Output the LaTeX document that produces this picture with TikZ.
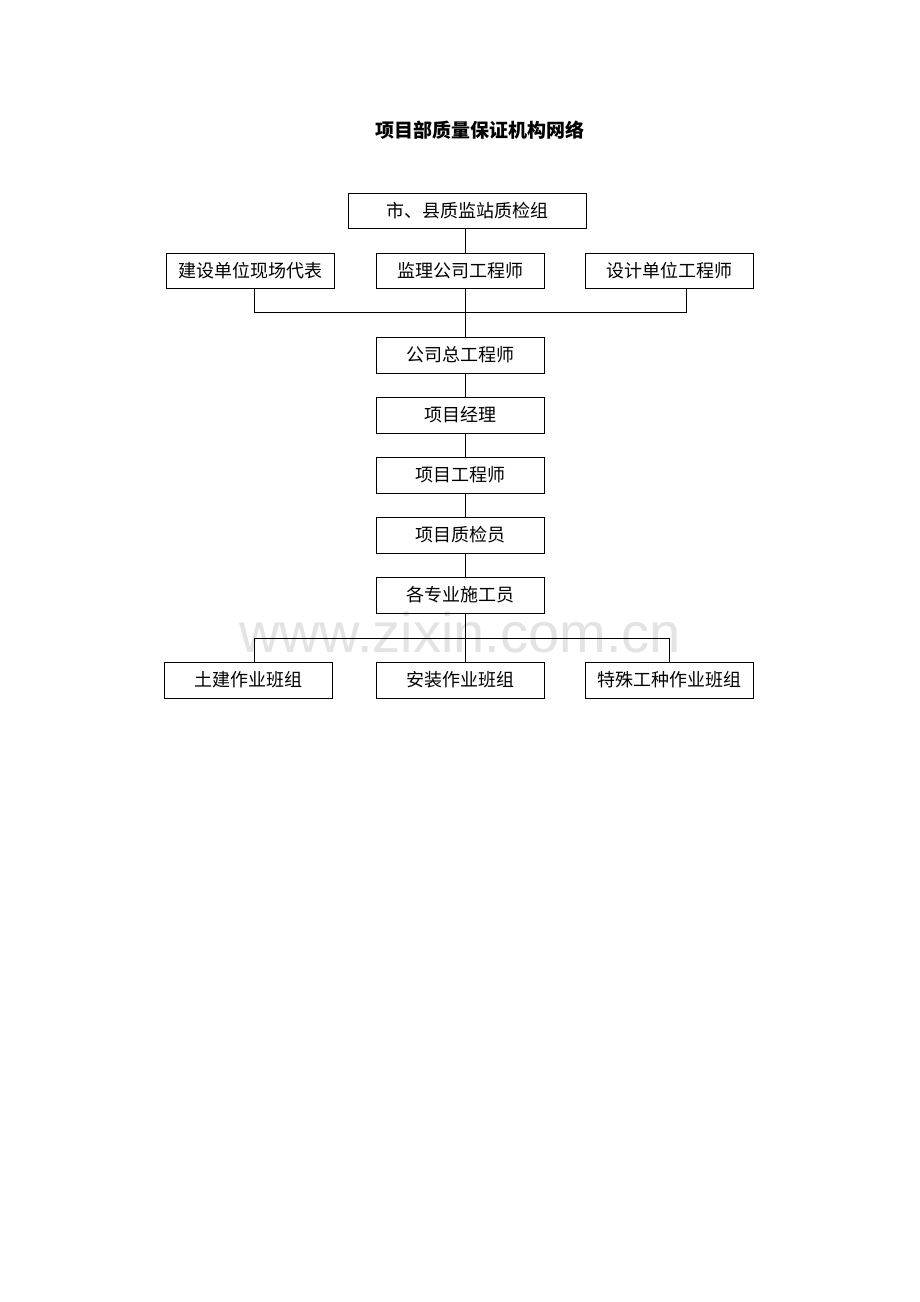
\documentclass[tikz,border=0pt]{standalone}
\usepackage{fontspec}
\setmainfont{Liberation Sans}
\newfontfamily\cjk{Noto Sans CJK SC}
\begin{document}
\begin{tikzpicture}[x=1pt,y=-1pt,
  box/.style={draw=black,line width=1pt,fill=none,inner sep=0pt,minimum width=168pt,minimum height=36pt,font=\cjk\fontsize{18}{20}\selectfont},
  conn/.style={line width=1pt,draw=black}]
\useasboundingbox (0,0) rectangle (920,1302);
\fill[white] (0,0) rectangle (920,1302);
\node[text=black!11,font=\fontsize{56}{60}\selectfont] (wm) at (460,632) {www.zixin.com.cn};
\node[font=\cjk\bfseries\fontsize{19}{22}\selectfont] (title) at (480,130) {项目部质量保证机构网络};
\node[box,minimum width=238pt,minimum height=35pt] (top) at (467,210.5) {市、县质监站质检组};
\node[box,minimum height=35pt] (r2l) at (250,270.5) {建设单位现场代表};
\node[box,minimum height=35pt] (r2m) at (460,270.5) {监理公司工程师};
\node[box,minimum height=35pt] (r2r) at (669,270.5) {设计单位工程师};
\node[box] (zgc) at (460,355) {公司总工程师};
\node[box] (xmjl) at (460,415) {项目经理};
\node[box] (xmgcs) at (460,475) {项目工程师};
\node[box] (zjy) at (460,535) {项目质检员};
\node[box] (sgy) at (460,595) {各专业施工员};
\node[box] (b1) at (248,680) {土建作业班组};
\node[box] (b2) at (460,680) {安装作业班组};
\node[box] (b3) at (669,680) {特殊工种作业班组};
\coordinate (sx) at (465,0);
\coordinate (h1) at (465,312);
\coordinate (h2) at (465,638);
\draw[conn] (top.south -| sx) -- (r2m.north -| sx);
\draw[conn] (r2m.south -| sx) -- (zgc.north -| sx);
\draw[conn] (r2l.south -| 254,0) -- (h1 -| 254,0) -- (h1 -| 686,0) -- (r2r.south -| 686,0);
\draw[conn] (zgc.south -| sx) -- (xmjl.north -| sx);
\draw[conn] (xmjl.south -| sx) -- (xmgcs.north -| sx);
\draw[conn] (xmgcs.south -| sx) -- (zjy.north -| sx);
\draw[conn] (zjy.south -| sx) -- (sgy.north -| sx);
\draw[conn] (sgy.south -| sx) -- (b2.north -| sx);
\draw[conn] (b1.north -| 254,0) -- (h2 -| 254,0) -- (h2 -| b3.north) -- (b3.north);
\end{tikzpicture}
\end{document}
